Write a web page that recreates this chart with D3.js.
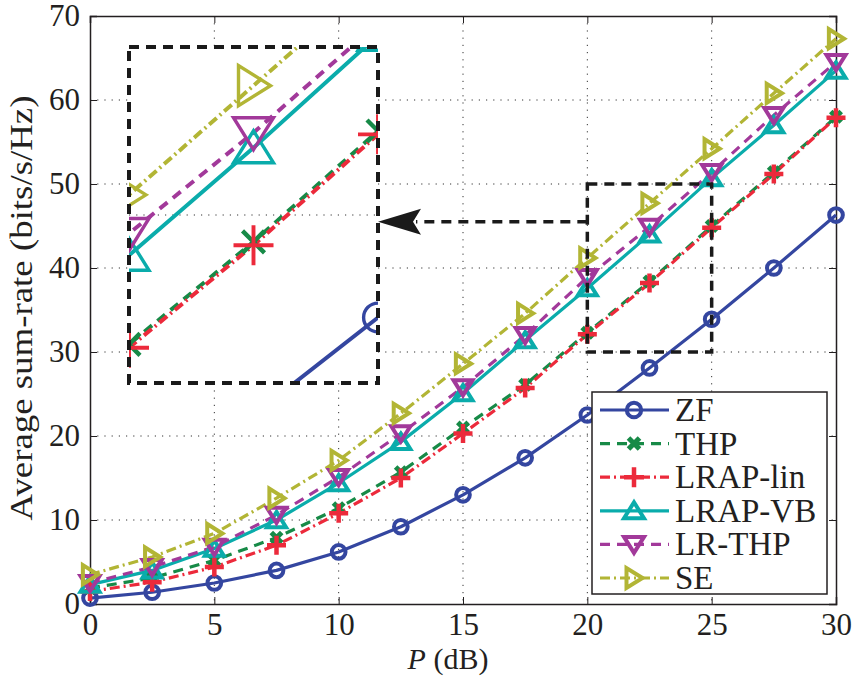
<!DOCTYPE html>
<html><head><meta charset="utf-8">
<script src="https://cdn.jsdelivr.net/npm/d3@7"></script>
<style>body{margin:0;background:#fff}</style>
</head><body><svg id="c" width="856" height="678"></svg>
<script>
// ---------- data ----------
const xValues = [0, 2.5, 5, 7.5, 10, 12.5, 15, 17.5, 20, 22.5, 25, 27.5, 30];
const zfValues      = [0.7, 1.4, 2.5, 4.0, 6.2, 9.2, 13.0, 17.4, 22.5, 28.1, 33.9, 40.0, 46.3];
const thpValues     = [1.9, 3.1, 5.2, 7.9, 11.4, 15.7, 21.0, 26.1, 32.3, 38.4, 45.0, 51.4, 58.0];
const lrapLinValues = [1.5, 2.6, 4.4, 7.0, 10.8, 15.0, 20.3, 25.7, 32.1, 38.2, 44.8, 51.2, 57.9];
const lrapVbValues  = [2.3, 4.0, 6.6, 10.0, 14.4, 19.3, 25.1, 31.4, 37.6, 44.0, 50.7, 57.0, 63.5];
const lrThpValues   = [2.5, 4.4, 6.8, 10.6, 15.1, 20.3, 25.8, 32.0, 38.9, 44.9, 51.4, 58.2, 64.5];
const seValues      = [3.5, 5.6, 8.4, 12.6, 17.1, 22.7, 28.6, 34.6, 41.2, 47.7, 54.2, 60.8, 67.3];
const seriesNames = ["ZF", "THP", "LRAP-lin", "LRAP-VB", "LR-THP", "SE"];
const xTicks = [0, 5, 10, 15, 20, 25, 30];
const yTicks = [0, 10, 20, 30, 40, 50, 60, 70];
const zoomX = [20, 25];
const zoomY = [30, 50];
const insetYGrid = [40];
const arrowY = 45.5;

const seriesValues = [zfValues, thpValues, lrapLinValues, lrapVbValues, lrThpValues, seValues];
const styles = [
  {color:"#3446a0", dash:null, marker:"circle"},
  {color:"#178a47", dash:"10,7", marker:"x"},
  {color:"#ec2a3b", dash:"10,4,2,4", marker:"plus"},
  {color:"#0aacab", dash:null, marker:"up"},
  {color:"#a2399a", dash:"10,7", marker:"down"},
  {color:"#b2b535", dash:"10,4,2,4", marker:"right"}
];

// pick an installed serif font
function pickFont() {
  const cands = ["Liberation Serif", "Tinos", "Times New Roman", "Times", "Nimbus Roman", "DejaVu Serif", "Noto Serif", "FreeSerif", "Latin Modern Roman", "CMU Serif"];
  const cv = document.createElement("canvas").getContext("2d");
  const s = "Average sum-rate (bits/s/Hz) 0123456789";
  cv.font = "40px monospace"; const wm = cv.measureText(s).width;
  cv.font = "40px sans-serif"; const ws = cv.measureText(s).width;
  for (const c of cands) {
    cv.font = `40px "${c}", monospace`; const a = cv.measureText(s).width;
    cv.font = `40px "${c}", sans-serif`; const b = cv.measureText(s).width;
    if (Math.abs(a - wm) > 0.5 && Math.abs(b - ws) > 0.5) return `"${c}", serif`;
    if (Math.abs(a - wm) > 0.5 && Math.abs(a - b) < 0.5) return `"${c}", serif`;
  }
  return "serif";
}
const FONT = pickFont();

const svg = d3.select("#c");
const L = 90, R = 836, T = 16, B = 604;
const x = d3.scaleLinear().domain([0, 30]).range([L, R]);
const y = d3.scaleLinear().domain([0, 70]).range([B, T]);

function drawMarker(g, type, cx, cy, s, color, sw) {
  if (type === "circle") {
    g.append("circle").attr("cx", cx).attr("cy", cy).attr("r", s * 0.72)
      .attr("fill", "none").attr("stroke", color).attr("stroke-width", sw);
  } else if (type === "plus") {
    g.append("path").attr("d", `M${cx - s},${cy}H${cx + s}M${cx},${cy - s}V${cy + s}`)
      .attr("stroke", color).attr("stroke-width", sw + 0.5).attr("fill", "none");
  } else if (type === "x") {
    const k = s * 0.55;
    g.append("path").attr("d", `M${cx - k},${cy - k}L${cx + k},${cy + k}M${cx - k},${cy + k}L${cx + k},${cy - k}`)
      .attr("stroke", color).attr("stroke-width", sw + 1).attr("fill", "none");
  } else {
    let pts;
    if (type === "up") pts = [[0, -s * 0.85], [s, s * 0.75], [-s, s * 0.75]];
    else if (type === "down") pts = [[0, s * 0.85], [s, -s * 0.75], [-s, -s * 0.75]];
    else pts = [[s * 0.85, 0], [-s * 0.75, -s], [-s * 0.75, s]];
    g.append("polygon").attr("points", pts.map(p => [cx + p[0], cy + p[1]].join(",")).join(" "))
      .attr("fill", "none").attr("stroke", color).attr("stroke-width", sw).attr("stroke-linejoin", "miter");
  }
}

// ---------- grid ----------
const grid = svg.append("g");
xTicks.slice(1, -1).forEach(t => grid.append("line").attr("x1", x(t)).attr("x2", x(t)).attr("y1", T).attr("y2", B)
  .attr("stroke", "#333").attr("stroke-width", 1).attr("stroke-dasharray", "1.2,6"));
yTicks.slice(1, -1).forEach(t => grid.append("line").attr("x1", L).attr("x2", R).attr("y1", y(t)).attr("y2", y(t))
  .attr("stroke", "#333").attr("stroke-width", 1).attr("stroke-dasharray", "1.2,6"));

// ---------- axes ----------
const axB = svg.append("g").attr("transform", `translate(0,${B})`)
  .call(d3.axisBottom(x).tickValues(xTicks).tickSize(-7).tickPadding(9).tickFormat(d3.format("d")));
const axT = svg.append("g").attr("transform", `translate(0,${T})`)
  .call(d3.axisTop(x).tickValues(xTicks).tickSize(-7).tickFormat(""));
const axL = svg.append("g").attr("transform", `translate(${L},0)`)
  .call(d3.axisLeft(y).tickValues(yTicks).tickSize(-7).tickPadding(10).tickFormat(d3.format("d")));
const axR = svg.append("g").attr("transform", `translate(${R},0)`)
  .call(d3.axisRight(y).tickValues(yTicks).tickSize(-7).tickFormat(""));
[axB, axT, axL, axR].forEach(a => {
  a.attr("font-family", FONT);
  a.select(".domain").attr("stroke", "#231f20").attr("stroke-width", 1.5);
  a.selectAll(".tick line").attr("stroke", "#231f20").attr("stroke-width", 1);
  a.selectAll("text").attr("font-size", 31).attr("font-family", FONT).attr("fill", "#231f20");
});
axB.selectAll("text").attr("dy", "0.71em");

// ---------- series ----------
function drawSeries(g, xs, ys, lw, ms, msw) {
  seriesValues.forEach((vals, i) => {
    const st = styles[i];
    const line = d3.line().x((d, j) => xs(xValues[j])).y(d => ys(d));
    g.append("path").datum(vals).attr("d", line).attr("fill", "none")
      .attr("stroke", st.color).attr("stroke-width", lw)
      .attr("stroke-dasharray", st.dash).attr("stroke-linejoin", "round");
  });
  seriesValues.forEach((vals, i) => {
    const st = styles[i];
    vals.forEach((v, j) => drawMarker(g, st.marker, xs(xValues[j]), ys(v), ms, st.color, msw));
  });
}
drawSeries(svg.append("g"), x, y, 3.2, 9.5, 4);

// ---------- zoom rectangle ----------
svg.append("rect").attr("x", x(zoomX[0])).attr("y", y(zoomY[1]))
  .attr("width", x(zoomX[1]) - x(zoomX[0])).attr("height", y(zoomY[0]) - y(zoomY[1]))
  .attr("fill", "none").attr("stroke", "#1a1a1a").attr("stroke-width", 3.5).attr("stroke-dasharray", "10,7");

// ---------- inset ----------
const IL = 129, IR = 378, IT = 47, IB = 383;
const xi = d3.scaleLinear().domain(zoomX).range([IL, IR]);
const yi = d3.scaleLinear().domain(zoomY).range([IB, IT]);
svg.append("rect").attr("x", IL).attr("y", IT).attr("width", IR - IL).attr("height", IB - IT).attr("fill", "#fff");
svg.append("clipPath").attr("id", "ic").append("rect").attr("x", IL).attr("y", IT).attr("width", IR - IL).attr("height", IB - IT);
const ig = svg.append("g").attr("clip-path", "url(#ic)");
insetYGrid.forEach(t => ig.append("line").attr("x1", IL).attr("x2", IR).attr("y1", yi(t)).attr("y2", yi(t))
  .attr("stroke", "#333").attr("stroke-width", 1).attr("stroke-dasharray", "1.2,6"));
drawSeries(ig, xi, yi, 4, 20, 3.4);
svg.append("rect").attr("x", IL).attr("y", IT).attr("width", IR - IL).attr("height", IB - IT)
  .attr("fill", "none").attr("stroke", "#1a1a1a").attr("stroke-width", 4).attr("stroke-dasharray", "10,7");

// arrow from zoom box to inset
const ay = y(arrowY);
svg.append("line").attr("x1", x(zoomX[0])).attr("x2", IR + 38).attr("y1", ay).attr("y2", ay)
  .attr("stroke", "#1a1a1a").attr("stroke-width", 3.5).attr("stroke-dasharray", "10,7");
svg.append("polygon")
  .attr("points", [[IR, ay], [IR + 43, ay - 13], [IR + 35, ay], [IR + 43, ay + 13]].map(p => p.join(",")).join(" "))
  .attr("fill", "#1a1a1a");

// ---------- legend ----------
const lg = svg.append("g");
const LX = 592, LY = 392, LW = 235, LH = 202;
lg.append("rect").attr("x", LX).attr("y", LY).attr("width", LW).attr("height", LH)
  .attr("fill", "#fff").attr("stroke", "#231f20").attr("stroke-width", 1.5);
seriesNames.forEach((name, i) => {
  const st = styles[i];
  const cy = LY + 18 + i * 33.6;
  lg.append("line").attr("x1", 600).attr("x2", 669).attr("y1", cy).attr("y2", cy)
    .attr("stroke", st.color).attr("stroke-width", 3.2).attr("stroke-dasharray", st.dash);
  drawMarker(lg, st.marker, 634, cy, 10, st.color, 4);
  lg.append("text").attr("x", 675).attr("y", cy + 11).attr("font-size", 33).attr("font-family", FONT)
    .attr("fill", "#231f20").text(name);
});

// ---------- axis titles ----------
const xt = svg.append("text").attr("x", 448).attr("y", 669).attr("text-anchor", "middle")
  .attr("font-size", 30).attr("font-family", FONT).attr("fill", "#231f20");
xt.append("tspan").attr("font-style", "italic").text("P");
xt.append("tspan").text(" (dB)");
svg.append("text").attr("transform", "translate(32,308) rotate(-90)").attr("text-anchor", "middle")
  .attr("font-size", 31).attr("font-family", FONT).attr("fill", "#231f20")
  .attr("textLength", 425).attr("lengthAdjust", "spacingAndGlyphs")
  .text("Average sum-rate (bits/s/Hz)");
</script></body></html>
